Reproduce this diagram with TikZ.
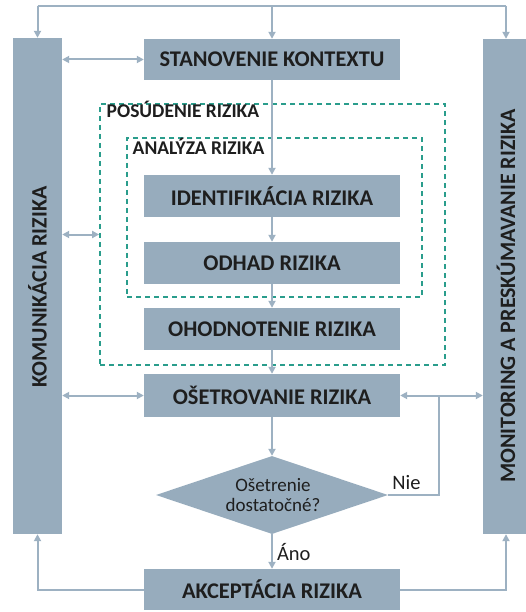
\documentclass[tikz,border=0pt]{standalone}
\usepackage{fontspec}
\setmainfont{Carlito}
\usetikzlibrary{arrows.meta,shapes.geometric}
\definecolor{boxc}{HTML}{97ACBD}
\definecolor{linec}{HTML}{9DB1C2}
\definecolor{dashc}{HTML}{2A9D8C}
\definecolor{txtc}{HTML}{1E1E1E}
\tikzset{
  stepbox/.style={fill=boxc, draw=none, minimum width=256pt, minimum height=42pt, inner sep=0pt,
    text=txtc, font=\fontsize{22.4}{24}\selectfont\bfseries},
  sidebar/.style={fill=boxc, draw=none, inner sep=0pt},
  sidetext/.style={rotate=90, text=txtc, inner sep=0pt, font=\fontsize{22}{24}\selectfont\bfseries},
  dashbox/.style={draw=dashc, line width=1.8pt, dash pattern=on 5pt off 4pt, inner sep=0pt},
  dashlabel/.style={anchor=base west, inner sep=0pt, text=txtc, font=\fontsize{19.5}{21}\selectfont\bfseries},
  conn/.style={draw=linec, line width=2pt},
  arr/.style={conn, -{Triangle[length=7pt,width=7pt]}},
  biarr/.style={conn, {Triangle[length=7pt,width=7pt]}-{Triangle[length=7pt,width=7pt]}},
  lbl/.style={inner sep=0pt, text=txtc, font=\fontsize{20.5}{22}\selectfont}
}
\begin{document}
\begin{tikzpicture}[x=1pt,y=-1pt]
\useasboundingbox[fill=white] (0,0) rectangle (525,612);
% dashed groups
\node[dashbox, minimum width=345pt, minimum height=261pt] (posud) at (272.5,234.5) {};
\node[dashbox, minimum width=295pt, minimum height=159pt] (analyza) at (274.5,217.5) {};
\node[dashlabel] (posudlbl) at (106.5,118) {POSÚDENIE RIZIKA};
\node[dashlabel] (analyzalbl) at (132.5,155) {ANALÝZA RIZIKA};
% side bars
\node[sidebar, minimum width=49pt, minimum height=496pt] (kom) at (37.5,286) {};
\node[sidebar, minimum width=46pt, minimum height=495pt] (mon) at (506,286.5) {};
\node[sidetext] (komtxt) at (37.5,287) {KOMUNIKÁCIA RIZIKA};
\node[sidetext] (montxt) at (506,296) {MONITORING A PRESKÚMAVANIE RIZIKA};
% steps
\node[stepbox, minimum height=41pt] (ctx) at (272,59.5) {STANOVENIE KONTEXTU};
\node[stepbox] (ident) at (272,196) {IDENTIFIKÁCIA RIZIKA};
\node[stepbox] (odhad) at (272,263) {ODHAD RIZIKA};
\node[stepbox] (ohod) at (272,329) {OHODNOTENIE RIZIKA};
\node[stepbox, minimum height=43pt] (oset) at (272,395.5) {OŠETROVANIE RIZIKA};
\node[diamond, fill=boxc, minimum width=232pt, minimum height=78pt, inner sep=0pt] (dec) at (272,495) {};
\node[lbl, align=center, font=\fontsize{19}{19.5}\selectfont] (dectxt) at (273,495) {Ošetrenie\\dostatočné?};
\node[stepbox, minimum height=41pt] (akc) at (272,589.5) {AKCEPTÁCIA RIZIKA};
% top feed
\coordinate (tl) at (37.5,6);
\coordinate (tr) at (506,6);
\draw[conn] (tl) -- (tr);
\draw[arr] (tl) -- (kom.north);
\draw[arr] (ctx.north |- tl) -- (ctx.north);
\draw[arr] (tr) -- (mon.north);
% main flow
\draw[arr] (ctx) -- (ident);
\draw[arr] (ident) -- (odhad);
\draw[arr] (odhad) -- (ohod);
\draw[arr] (ohod) -- (oset);
\draw[arr] (oset) -- (dec);
\draw[arr] (dec) -- node[lbl, anchor=west, xshift=4pt, yshift=-1pt] {Áno} (akc);
% communication links
\draw[biarr] (ctx.west -| kom.east) -- (ctx.west);
\draw[biarr] (posud.west -| kom.east) -- (posud.west);
\draw[biarr] (oset.west -| kom.east) -- (oset.west);
% monitoring link and loop
\coordinate (j) at (439,395.5);
\draw[biarr] (oset.east) -- (oset.east -| mon.west);
\draw[conn] (dec.east) -| node[lbl, pos=0.2, anchor=south, yshift=4pt, xshift=-2pt] {Nie} (j);
% acceptance
\draw[arr] (akc.west) -| (kom.south);
\draw[arr] (akc.east) -| (mon.south);
\end{tikzpicture}
\end{document}
